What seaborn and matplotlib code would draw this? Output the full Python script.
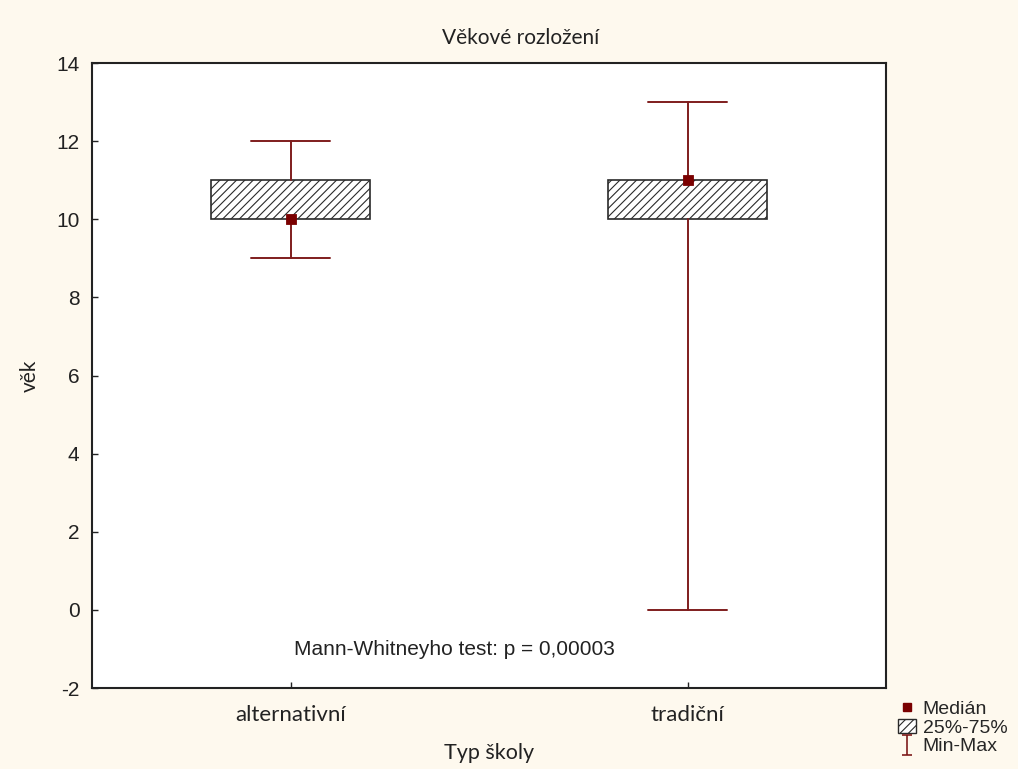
import numpy as np
import pandas as pd
import seaborn as sns
import matplotlib
matplotlib.use("Agg")
import matplotlib.pyplot as plt
from matplotlib.path import Path
from matplotlib.lines import Line2D
from matplotlib.patches import Patch

# ---- data ----
categories = ["alternativní", "tradiční"]
minimum = [9, 0]
q1 = [10, 10]
median = [10, 11]
q3 = [11, 11]
maximum = [12, 13]
y_ticks = [-2, 0, 2, 4, 6, 8, 10, 12, 14]

title = "Věkové rozložení"
xlabel = "Typ školy"
ylabel = "věk"
note = "Mann-Whitneyho test: p = 0,00003"
legend_labels = ["Medián", "25%-75%", "Min-Max"]

sns.set_style("ticks")
plt.rcParams["font.family"] = ["Liberation Sans", "DejaVu Sans"]
plt.rcParams["hatch.linewidth"] = 0.8

BG = "#fef9ee"
WHISK = "#7f1d1d"
MED = "#7a0000"
EDGE = "#2a2a2a"
NARROW = ["Lato", "DejaVu Sans"]

fig = plt.figure(figsize=(10.18, 7.69), dpi=100, facecolor=BG)
ax = fig.add_axes([0.0904, 0.1053, 0.780, 0.8127])
ax.set_facecolor("white")

positions = np.arange(len(categories))
stats = []
for i, c in enumerate(categories):
    stats.append(dict(label=c, med=median[i], q1=q1[i], q3=q3[i],
                      whislo=minimum[i], whishi=maximum[i], fliers=[]))

ax.bxp(stats, positions=positions, widths=0.4, capwidths=0.2,
       patch_artist=True, showfliers=False,
       boxprops=dict(facecolor="white", edgecolor=EDGE, hatch="////", linewidth=1.2),
       whiskerprops=dict(color=WHISK, linewidth=1.4),
       capprops=dict(color=WHISK, linewidth=1.4),
       medianprops=dict(linewidth=0))

df = pd.DataFrame({"pos": positions, "median": median})
sns.scatterplot(data=df, x="pos", y="median", marker="s", color=MED,
                edgecolor=MED, s=55, ax=ax, zorder=5, legend=False)

ax.set_xlim(-0.5, 1.5)
ax.set_ylim(-2, 14)
ax.set_yticks(y_ticks)
ax.set_yticklabels([str(t) for t in y_ticks], fontsize=15)
ax.set_xticks(positions)
ax.set_xticklabels(categories, fontsize=16, family=NARROW)
ax.tick_params(axis="y", direction="in", length=4, width=1, pad=9, colors="#222222")
ax.tick_params(axis="x", direction="in", length=4, width=1, pad=12, colors="#222222")
for s in ax.spines.values():
    s.set_visible(True)
    s.set_linewidth(1.5)
    s.set_color("#222222")

ax.set_xlabel("")
ax.set_ylabel("")
ax.text(0.5, -0.104, xlabel, transform=ax.transAxes, ha="center", va="center",
        fontsize=15.5, family=NARROW, color="#222222")
ax.text(-0.078, 0.5, ylabel, transform=ax.transAxes, ha="center", va="center",
        rotation=90, fontsize=15, family=NARROW, color="#222222")
fig.text(0.511, 0.951, title, ha="center", va="center", fontsize=15,
         family=NARROW, color="#222222")
ax.text(0.457, 0.061, note, transform=ax.transAxes, ha="center", va="center",
        fontsize=15, color="#222222")

# legend
i_marker = Path([(-0.5, 1), (0.5, 1), (0, 1), (0, -1), (-0.5, -1), (0.5, -1)],
                [Path.MOVETO, Path.LINETO, Path.MOVETO, Path.LINETO, Path.MOVETO, Path.LINETO])
handles = [
    Line2D([], [], linestyle="none", marker="s", color=MED, markersize=6),
    Patch(facecolor="white", edgecolor=EDGE, hatch="////", linewidth=1),
    Line2D([], [], linestyle="none", marker=i_marker, markerfacecolor="none",
           markeredgecolor=WHISK, markersize=14, markeredgewidth=1.2),
]
fig.legend(handles, legend_labels, loc="lower right", bbox_to_anchor=(1.003, 0.0),
           frameon=False, fontsize=14, handlelength=0.9, handletextpad=0.35,
           labelspacing=0.05, borderaxespad=0.3)

fig.savefig("out.png", dpi=100, facecolor=BG)
